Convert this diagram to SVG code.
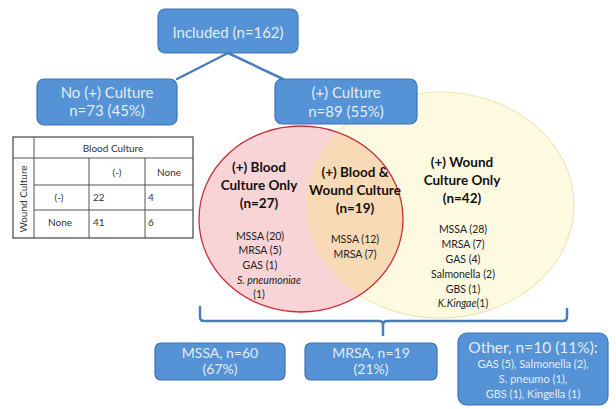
<svg xmlns="http://www.w3.org/2000/svg" width="616" height="409" viewBox="0 0 616 409">
<defs>
<style>
.box{fill:#5592d6;stroke:#3f74b5;stroke-width:1.2}
.bt{font-family:Lato,"Liberation Sans",sans-serif;fill:#e3edf8;text-anchor:middle}
.conn{stroke:#4a7ebb;stroke-width:2.5;fill:none;stroke-linecap:round}
.vt{font-family:Lato,"Liberation Sans",sans-serif;fill:#222;text-anchor:middle}
.vb{font-weight:bold;font-size:13.5px;fill:#111}
.vl{font-size:10.5px}
.tt{font-family:Lato,"Liberation Sans",sans-serif;fill:#333;font-size:10px}
.tl{stroke:#555;stroke-width:1}
</style>
<clipPath id="redclip"><ellipse cx="301" cy="219" rx="102" ry="93"/></clipPath>
</defs>

<g id="venn">
<ellipse id="wound-ellipse" cx="440" cy="205" rx="134" ry="113" fill="#fdfae1" stroke="#efe6b8" stroke-width="1.2"/>
<ellipse id="blood-ellipse" cx="301" cy="219" rx="102" ry="93" fill="#f9d4d7"/>
<ellipse cx="440" cy="205" rx="134" ry="113" fill="#f8dab6" clip-path="url(#redclip)"/>
<ellipse cx="301" cy="219" rx="102" ry="93" fill="none" stroke="#c8313a" stroke-width="1.3"/>
</g>

<g id="connectors">
<line class="conn" x1="228" y1="53" x2="177" y2="79"/>
<line class="conn" x1="228" y1="53" x2="283" y2="79"/>
<path class="conn" d="M200,307 V317 Q200,321 204,321 H379 Q383,321 383,325 V335 M383,325 Q383,321 387,321 H563 Q567,321 567,317 V309" stroke-width="3"/>
</g>

<g id="included">
<rect class="box" x="158" y="9" width="140" height="44" rx="7"/>
<text class="bt" x="228" y="38" font-size="15">Included (n=162)</text>
</g>

<g id="no-culture">
<rect class="box" x="37" y="79" width="140" height="46" rx="7"/>
<text class="bt" x="107" y="98" font-size="15">No (+) Culture</text>
<text class="bt" x="107" y="116" font-size="15">n=73 (45%)</text>
</g>

<g id="pos-culture">
<rect class="box" x="275" y="79" width="142" height="45" rx="7"/>
<text class="bt" x="346" y="98" font-size="15">(+) Culture</text>
<text class="bt" x="346" y="117" font-size="15">n=89 (55%)</text>
</g>

<g id="table">
<rect x="13" y="137" width="180" height="101" fill="#fff" stroke="#444" stroke-width="1.2"/>
<line class="tl" x1="34" y1="137" x2="34" y2="238"/>
<line class="tl" x1="34" y1="158" x2="193" y2="158"/>
<line class="tl" x1="13" y1="158" x2="34" y2="158"/>
<line class="tl" x1="34" y1="185" x2="193" y2="185"/>
<line class="tl" x1="34" y1="210" x2="193" y2="210"/>
<line class="tl" x1="89" y1="158" x2="89" y2="238"/>
<line class="tl" x1="145" y1="158" x2="145" y2="238"/>
<text class="tt" x="113" y="152" text-anchor="middle">Blood Culture</text>
<text class="tt" x="117" y="176" text-anchor="middle">(-)</text>
<text class="tt" x="169" y="176" text-anchor="middle">None</text>
<text class="tt" x="59" y="201" text-anchor="middle">(-)</text>
<text class="tt" x="93" y="201">22</text>
<text class="tt" x="148" y="201">4</text>
<text class="tt" x="60" y="226" text-anchor="middle">None</text>
<text class="tt" x="93" y="226">41</text>
<text class="tt" x="148" y="226">6</text>
<text class="tt" x="0" y="0" text-anchor="middle" transform="translate(27,199) rotate(-90)">Wound Culture</text>
</g>

<g id="blood-only">
<text class="vt vb" x="259" y="172">(+) Blood</text>
<text class="vt vb" x="259" y="190">Culture Only</text>
<text class="vt vb" x="259" y="208">(n=27)</text>
<text class="vt vl" x="260" y="240">MSSA (20)</text>
<text class="vt vl" x="260" y="254">MRSA (5)</text>
<text class="vt vl" x="260" y="269">GAS (1)</text>
<text class="vt vl" x="269" y="284" font-style="italic">S. pneumoniae</text>
<text class="vt vl" x="259" y="298">(1)</text>
</g>

<g id="blood-wound">
<text class="vt vb" x="355" y="177">(+) Blood &amp;</text>
<text class="vt vb" x="355" y="195">Wound Culture</text>
<text class="vt vb" x="355" y="213">(n=19)</text>
<text class="vt vl" x="355" y="243">MSSA (12)</text>
<text class="vt vl" x="355" y="258">MRSA (7)</text>
</g>

<g id="wound-only">
<text class="vt vb" x="462" y="167">(+) Wound</text>
<text class="vt vb" x="462" y="185">Culture Only</text>
<text class="vt vb" x="462" y="203">(n=42)</text>
<text class="vt vl" x="463" y="233">MSSA (28)</text>
<text class="vt vl" x="463" y="248">MRSA (7)</text>
<text class="vt vl" x="463" y="263">GAS (4)</text>
<text class="vt vl" x="463" y="278">Salmonella (2)</text>
<text class="vt vl" x="463" y="293">GBS (1)</text>
<text class="vt vl" x="463" y="307"><tspan font-style="italic">K.Kingae</tspan>(1)</text>
</g>

<g id="mssa">
<rect class="box" x="155" y="343" width="130" height="37" rx="6"/>
<text class="bt" x="220" y="358" font-size="14">MSSA, n=60</text>
<text class="bt" x="220" y="374" font-size="14">(67%)</text>
</g>

<g id="mrsa">
<rect class="box" x="305" y="343" width="132" height="37" rx="6"/>
<text class="bt" x="371" y="358" font-size="14">MRSA, n=19</text>
<text class="bt" x="371" y="374" font-size="14">(21%)</text>
</g>

<g id="other">
<rect class="box" x="458" y="333" width="150" height="72" rx="9"/>
<text class="bt" x="533" y="353" font-size="15.5">Other, n=10 (11%):</text>
<text class="bt" x="533" y="368" font-size="11">GAS (5), Salmonella (2),</text>
<text class="bt" x="533" y="383" font-size="11">S. pneumo (1),</text>
<text class="bt" x="533" y="398" font-size="11">GBS (1), Kingella (1)</text>
</g>
</svg>
